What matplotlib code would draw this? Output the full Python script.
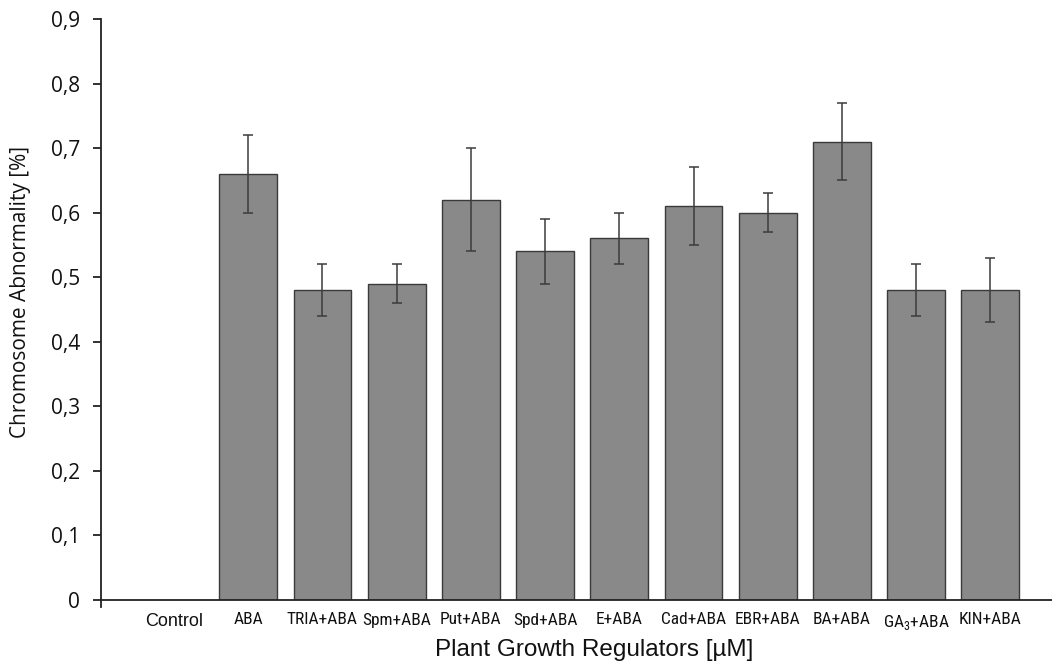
import matplotlib
matplotlib.use("Agg")
import matplotlib.pyplot as plt
from matplotlib.ticker import FuncFormatter
from matplotlib import font_manager

categories = ["Control", "ABA", "TRIA+ABA", "Spm+ABA", "Put+ABA", "Spd+ABA", "E+ABA",
              "Cad+ABA", "EBR+ABA", "BA+ABA", "GA$_\\mathregular{3}$+ABA", "KIN+ABA"]
values = [0.0, 0.66, 0.48, 0.49, 0.62, 0.54, 0.56, 0.61, 0.60, 0.71, 0.48, 0.48]
errors = [0.0, 0.06, 0.04, 0.03, 0.08, 0.05, 0.04, 0.06, 0.03, 0.06, 0.04, 0.05]
yticks = [0, 0.1, 0.2, 0.3, 0.4, 0.5, 0.6, 0.7, 0.8, 0.9]

# pick a condensed font if one is installed
installed = {f.name for f in font_manager.fontManager.ttflist}
narrow_font = None
for cand in ["Liberation Sans Narrow", "Roboto Condensed", "Open Sans Condensed",
             "Noto Sans Condensed", "DejaVu Sans Condensed", "Arial Narrow"]:
    if cand in installed:
        narrow_font = cand
        break
if narrow_font:
    xt_family, xt_size = [narrow_font, "DejaVu Sans"], 12.5
else:
    xt_family, xt_size = ["Liberation Sans", "DejaVu Sans"], 10

fig = plt.figure(figsize=(10.52, 6.67), dpi=100)
ax = fig.add_axes([101/1052, 1-600/667, 1-101/1052, (600-19)/667])

x = list(range(len(categories)))
ax.bar(x[1:], values[1:], width=0.78, color="#898989", edgecolor="#3a3a3a", linewidth=1.0, zorder=2)
ax.errorbar(x[1:], values[1:], yerr=errors[1:], fmt="none", ecolor="#3c3c3c",
            elinewidth=1.1, capsize=3.5, capthick=1.1, zorder=3)

ax.set_xlim(-0.984, 11.83)
ax.set_ylim(0, 0.9)
ax.set_yticks(yticks)
ax.yaxis.set_major_formatter(FuncFormatter(lambda v, p: ("%.1f" % v).replace(".", ",") if v != 0 else "0"))
for lab in ax.get_yticklabels():
    lab.set_fontfamily(["Open Sans", "DejaVu Sans"])
    lab.set_fontsize(15)
    lab.set_color("#111111")
ax.tick_params(axis="y", direction="out", length=6, width=1.3, color="#222222", pad=9)

ax.set_xticks(x)
ax.set_xticklabels(categories)
ax.tick_params(axis="x", length=0, pad=9)
for i, lab in enumerate(ax.get_xticklabels()):
    if i == 0:
        lab.set_fontfamily(["Liberation Sans", "DejaVu Sans"])
        lab.set_fontsize(13)
    else:
        lab.set_fontfamily(xt_family)
        lab.set_fontsize(xt_size)
    lab.set_color("#111111")

# small downward extension of y axis at origin
ax.plot([-0.984, -0.984], [0, -0.011], color="#222222", lw=1.3, clip_on=False)

for s in ["top", "right"]:
    ax.spines[s].set_visible(False)
for s in ["left", "bottom"]:
    ax.spines[s].set_linewidth(1.3)
    ax.spines[s].set_color("#222222")

ax.set_ylabel("Chromosome Abnormality [%]", fontfamily=["Open Sans", "DejaVu Sans"],
              fontsize=15, color="#111111")
ax.yaxis.set_label_coords((31 - 101) / (1052 - 101), (600 - 292) / 581)
ax.set_xlabel("Plant Growth Regulators [µM]", fontfamily=["Liberation Sans", "DejaVu Sans"],
              fontsize=17.5, color="#111111")
ax.xaxis.set_label_coords((594 - 101) / (1052 - 101), (600 - 639) / 581)

fig.savefig("out.png", dpi=100)
